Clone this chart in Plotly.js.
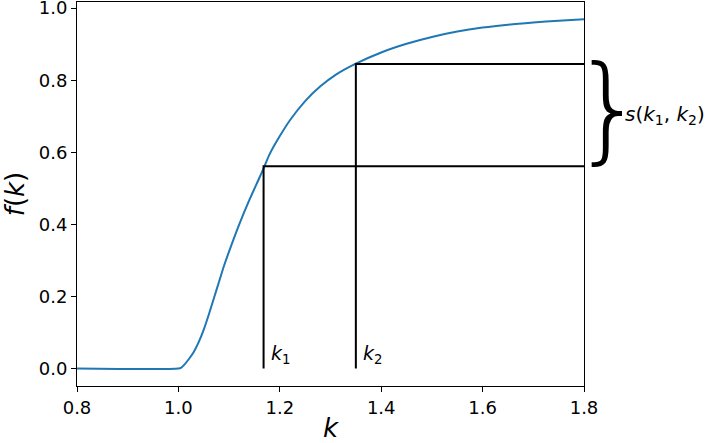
<!DOCTYPE html>
<html>
<head>
<meta charset="utf-8">
<script src="https://cdn.plot.ly/plotly-3.0.1.min.js"></script>
<style>
html,body{margin:0;padding:0;background:#fff;}
#chart{width:705px;height:443px;}
</style>
</head>
<body>
<div id="chart"></div>
<script>
// Curve
const kValues = [0.80, 1.00, 1.005, 1.01, 1.02, 1.03, 1.04, 1.05, 1.06, 1.07, 1.08, 1.09, 1.10, 1.12, 1.14, 1.16, 1.17, 1.18, 1.20, 1.22, 1.25, 1.28, 1.31, 1.35, 1.40, 1.45, 1.50, 1.55, 1.60, 1.65, 1.70, 1.75, 1.80];
const fValues = [0.000, 0.000, 0.002, 0.008, 0.025, 0.045, 0.073, 0.108, 0.150, 0.195, 0.240, 0.285, 0.325, 0.400, 0.468, 0.530, 0.562, 0.595, 0.645, 0.689, 0.742, 0.783, 0.815, 0.846, 0.877, 0.901, 0.920, 0.935, 0.946, 0.954, 0.960, 0.965, 0.969];

// Marked points
const k1 = 1.168, k2 = 1.35;
const f1 = 0.561, f2 = 0.845;
const kMax = 1.8;

const xTickVals = [0.8, 1.0, 1.2, 1.4, 1.6, 1.8];
const yTickVals = [0.0, 0.2, 0.4, 0.6, 0.8, 1.0];

const FONT = 'DejaVu Sans, sans-serif';

const traces = [
  {x: kValues, y: fValues, type: 'scatter', mode: 'lines',
   line: {color: '#1f77b4', width: 2, shape: 'spline', smoothing: 0.8}, hoverinfo: 'skip'},
  {x: [k1, k1, kMax], y: [0, f1, f1], type: 'scatter', mode: 'lines',
   line: {color: '#000000', width: 2}, hoverinfo: 'skip'},
  {x: [k2, k2, kMax], y: [0, f2, f2], type: 'scatter', mode: 'lines',
   line: {color: '#000000', width: 2}, hoverinfo: 'skip'}
];

const axisCommon = {
  showgrid: false, zeroline: false,
  showline: true, mirror: true, linecolor: '#000', linewidth: 1,
  ticks: 'outside', ticklen: 5, tickwidth: 1, tickcolor: '#000',
  tickfont: {family: FONT, size: 18, color: '#000'},
  tickformat: '.1f', ticklabeloverflow: 'allow'
};

const layout = {
  width: 705, height: 443,
  margin: {l: 77, r: 121, t: 2, b: 57},
  paper_bgcolor: '#fff', plot_bgcolor: '#fff',
  showlegend: false,
  font: {family: FONT, color: '#000'},
  xaxis: Object.assign({}, axisCommon, {
    range: [0.8, 1.8], tickvals: xTickVals,
    title: {text: '<i>k</i>', font: {family: FONT, size: 26, color: '#000'}, standoff: 6}
  }),
  yaxis: Object.assign({}, axisCommon, {
    range: [-0.0485, 1.017], tickvals: yTickVals,
    title: {text: '<i>f</i>(<i>k</i>)', font: {family: FONT, size: 26, color: '#000'}, standoff: 6}
  }),
  annotations: [
    {x: k1 + 0.01, y: 0.0, xref: 'x', yref: 'y', xanchor: 'left', yanchor: 'bottom',
     text: '<i>k</i><sub>1</sub>', showarrow: false, font: {family: FONT, size: 19, color: '#000'}},
    {x: k2 + 0.01, y: 0.0, xref: 'x', yref: 'y', xanchor: 'left', yanchor: 'bottom',
     text: '<i>k</i><sub>2</sub>', showarrow: false, font: {family: FONT, size: 19, color: '#000'}},
    {x: 1.05, y: (f1 + f2) / 2 + 0.022, xref: 'paper', yref: 'y', xanchor: 'center', yanchor: 'middle',
     text: '}', showarrow: false, font: {family: FONT, size: 116, weight: 200, color: '#000'}},
    {x: 1.077, y: (f1 + f2) / 2, xref: 'paper', yref: 'y', xanchor: 'left', yanchor: 'middle',
     text: '<i>s</i>(<i>k</i><sub>1</sub>, <i>k</i><sub>2</sub>)', showarrow: false,
     font: {family: FONT, size: 20, color: '#000'}}
  ]
};

Plotly.newPlot('chart', traces, layout, {displayModeBar: false, staticPlot: true});
</script>
</body>
</html>
